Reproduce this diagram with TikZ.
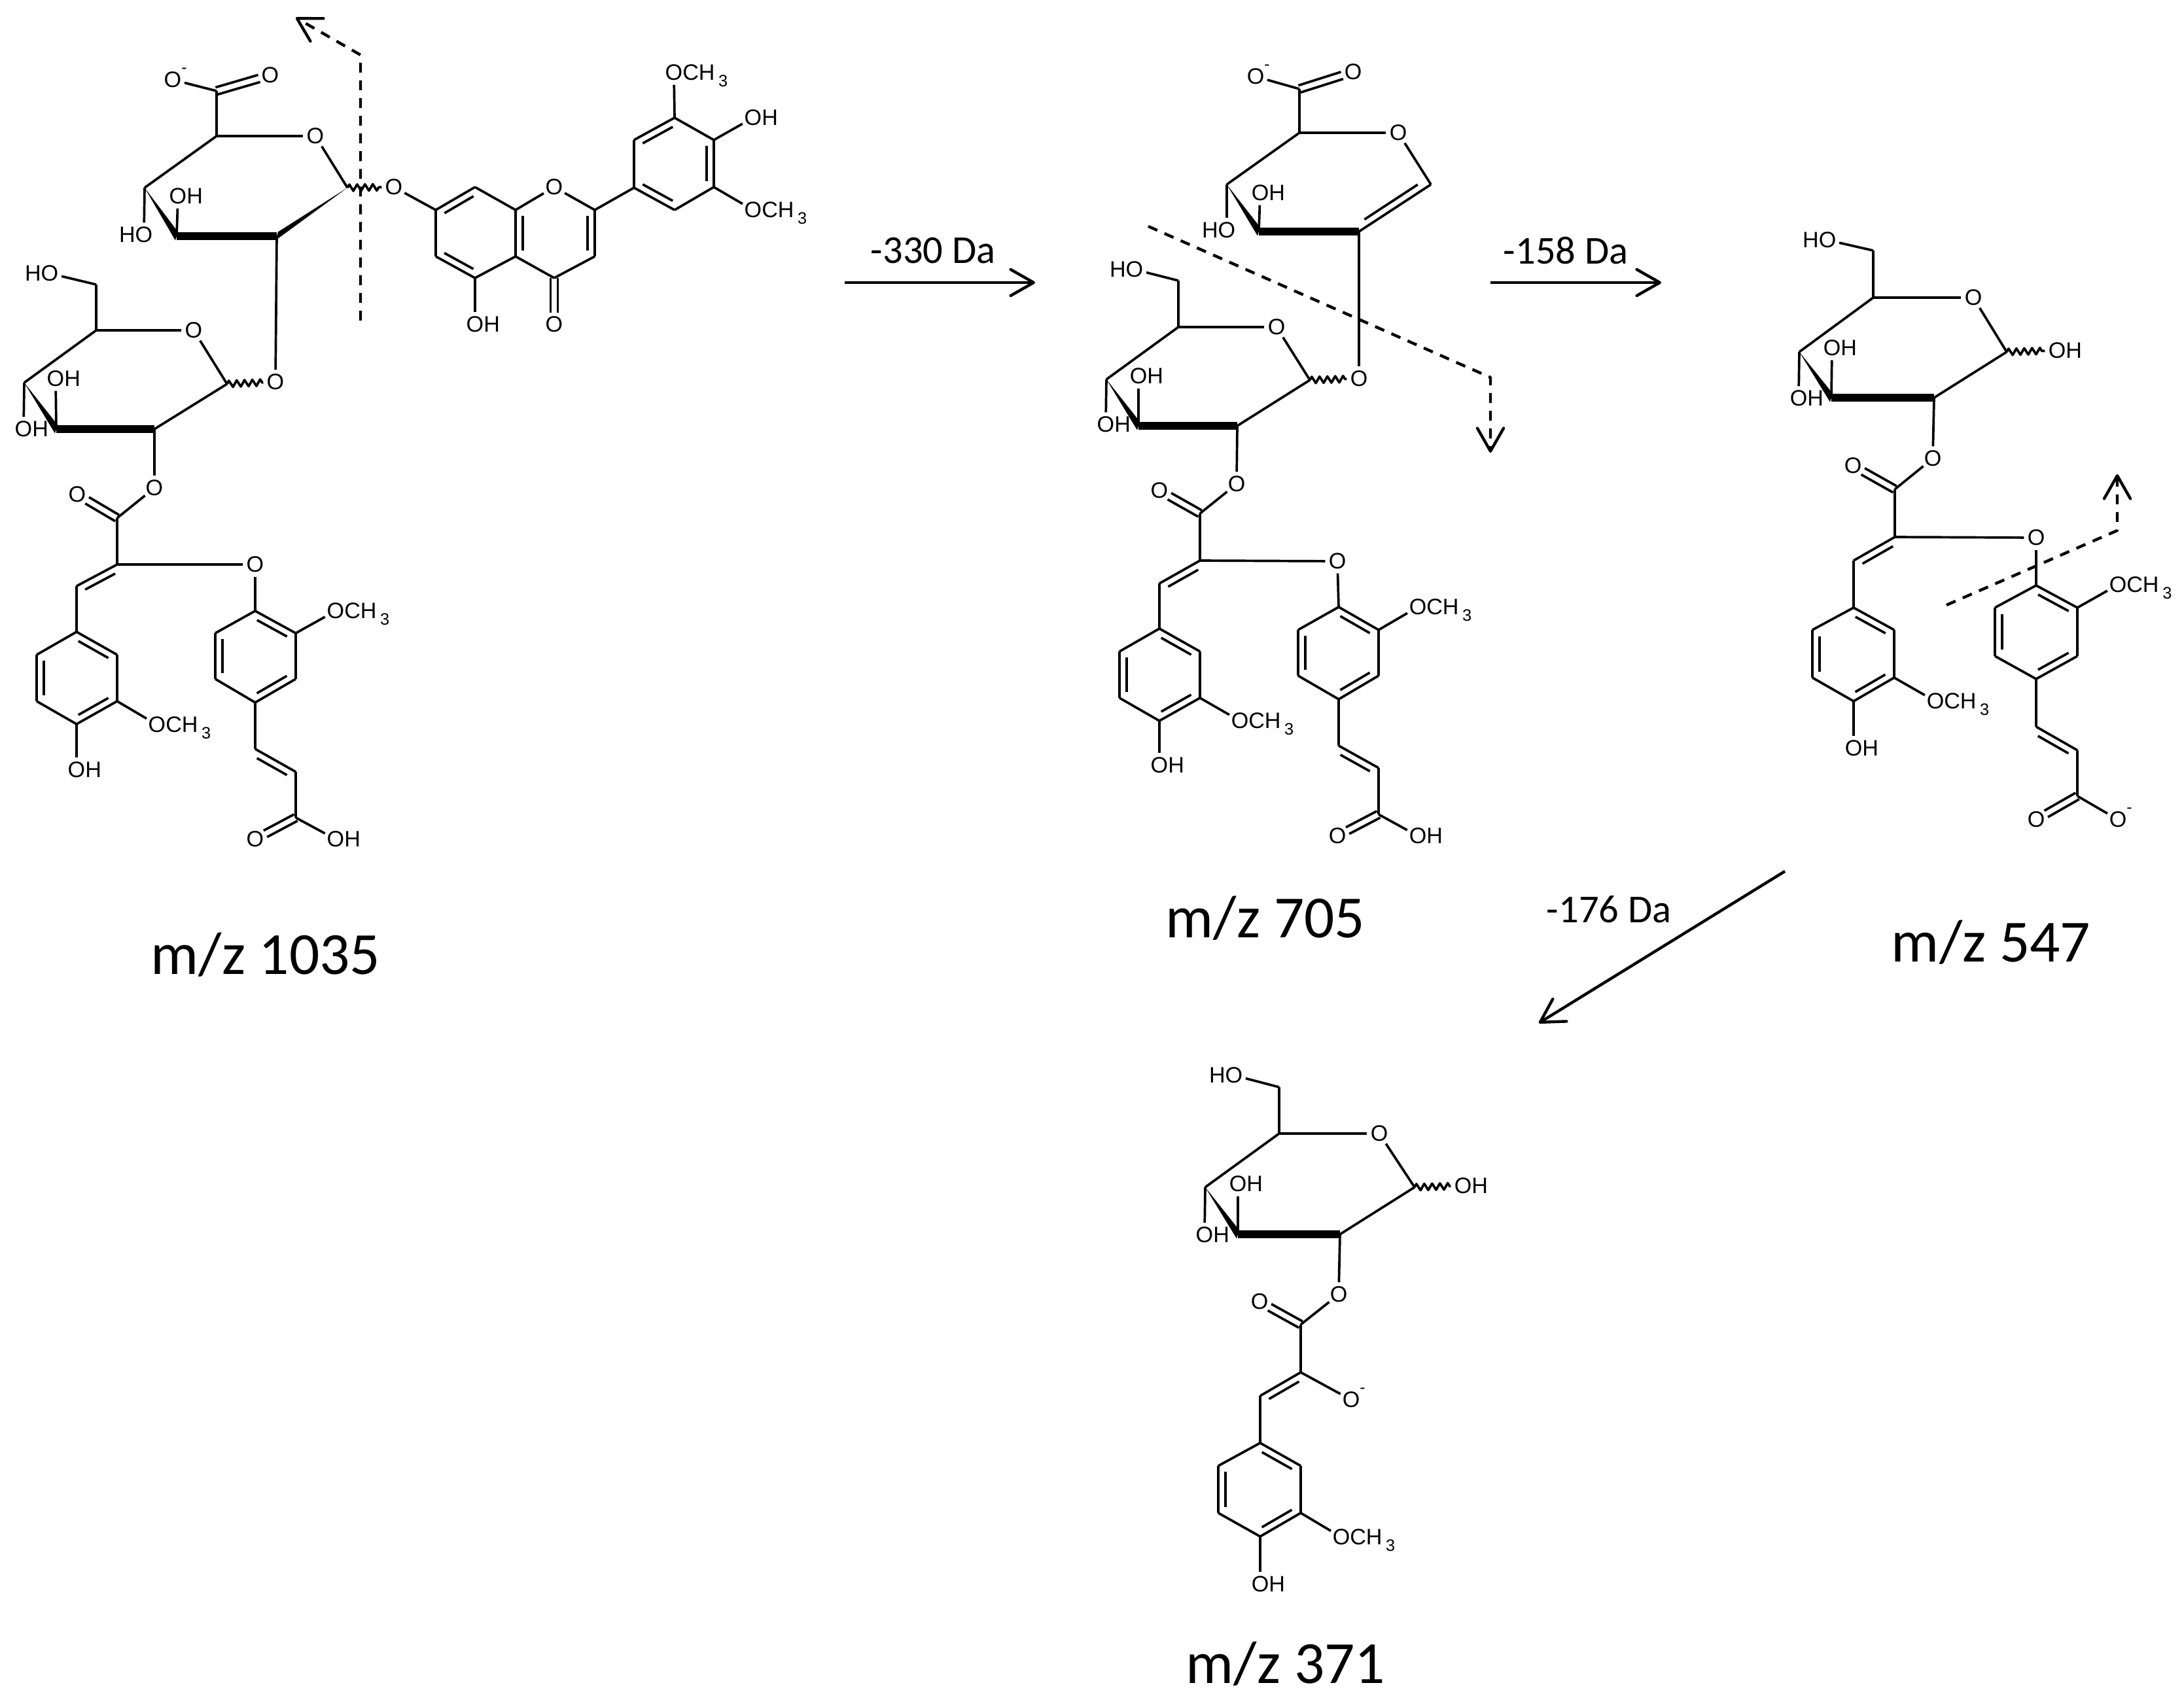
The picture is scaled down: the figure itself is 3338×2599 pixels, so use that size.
\documentclass[tikz,border=0pt]{standalone}
\usepackage{fontspec}
\setmainfont{Liberation Sans}
\newfontfamily\calfont{Carlito}
\usetikzlibrary{calc, arrows.meta, decorations.pathmorphing}

\tikzset{
    bond/.style={draw, line width=1.05pt, line join=round},
    boldbond/.style={draw, line width=3.2pt},
    wavybond/.style={bond, decorate, decoration={zigzag, segment length=3.4pt, amplitude=1.4pt}},
    atom/.style={circle, inner sep=0pt, font=\fontsize{9.7}{11}\selectfont},
    cleavage/.style={bond, line width=1.25pt, dash pattern=on 4.3pt off 3.4pt, -{Straight Barb[length=10pt, width=11.4pt, round]}},
    reaction/.style={draw, line width=1.25pt, -{Straight Barb[length=10pt, width=11.4pt, round]}},
    losslabel/.style={font=\calfont\fontsize{17.2}{20}\selectfont},
    masslabel/.style={font=\calfont\fontsize{26}{30}\selectfont},
}

% Textes des atomes (le noeud est centré sur le O)
\newcommand{\OH}{O\smash{\rlap{H}}}
\newcommand{\HO}{\smash{\llap{H}}O}
\newcommand{\OCH}{O\smash{\rlap{CH\,\raisebox{-2.9pt}{\fontsize{7.2}{8}\selectfont 3}}}}
\newcommand{\Oneg}{O\smash{\rlap{\raisebox{6.3pt}{\fontsize{7}{8}\selectfont -}}}}

% Positions
\newcommand{\carbons}[2]{\foreach \n/\px/\py in {#2} \coordinate (#1\n) at (\px,\py);}
\newcommand{\atomlabels}[2]{\foreach \n/\txt/\px/\py in {#2} \node[atom] (#1\n) at (\px,\py) {\txt};}

% Liaisons
\newcommand{\bonds}[2]{\foreach \a/\b in {#2} \draw[bond] (#1\a) -- (#1\b);}
\newcommand{\dblbond}[2]{
    \draw[bond] (#1) -- (#2);
    \draw[bond] ($(#1)!0.13!(#2)!3.1pt!90:(#2)$) -- ($(#2)!0.13!(#1)!3.1pt!-90:(#1)$);
}
\newcommand{\carbonyl}[2]{
    \draw[bond, shorten >=5pt] ($(#1)!1.6pt!90:(#2)$) -- ($(#2)!1.6pt!-90:(#1)$);
    \draw[bond, shorten >=5pt] ($(#1)!1.6pt!-90:(#2)$) -- ($(#2)!1.6pt!90:(#1)$);
}
\newcommand{\wedgebond}[2]{\fill (#1) -- ($(#2)+(2,-6.5)$) -- ($(#2)+(-2,6.5)$) -- cycle;}

% Fragments communs
\newcommand{\pyranose}[1]{
    \bonds{#1}{c5/c6, c6/o6, c5/oring, oring/c1, c1/c2, c4/c5, c4/o4, c3/o3, c2/o2}
    \draw[wavybond] (#1c1) -- (#1o1);
    \wedgebond{#1c4}{#1c3}
    \draw[boldbond] (#1c3) -- (#1c2);
}
\newcommand{\feruloyl}[1]{
    \bonds{#1}{o2/ca, ca/cb, cg/r1, r1/r6, r2/r3, r4/r5, r3/rome, r4/roh, cb/oe}
    \carbonyl{#1ca}{#1oc}
    \dblbond{#1cb}{#1cg}
    \dblbond{#1r2}{#1r1}
    \dblbond{#1r4}{#1r3}
    \dblbond{#1r6}{#1r5}
}
\newcommand{\ferulate}[1]{
    \bonds{#1}{oe/p1, p1/p6, p2/p3, p4/p5, p2/pome, p4/v1, v2/cx, cx/ob}
    \dblbond{#1p2}{#1p1}
    \dblbond{#1p4}{#1p3}
    \dblbond{#1p6}{#1p5}
    \dblbond{#1v2}{#1v1}
    \carbonyl{#1cx}{#1oa}
}
\newcommand{\uronate}[1]{
    \bonds{#1}{k6/k5, k6/kox, k5/kring, kring/k1, k4/k5, k4/k4o, k3/k3o, k2/o1}
    \carbonyl{#1k6}{#1koo}
    \wedgebond{#1k4}{#1k3}
    \draw[boldbond] (#1k3) -- (#1k2);
}

\begin{document}
\begin{tikzpicture}[x=0.01cm, y=-0.01cm]
    \useasboundingbox (0,0) rectangle (3338,2599);

    % m/z 1035
    \carbons{a}{c1/347/587, c2/236/656, c3/86/656, c4/37/585, c5/147/505, c6/147/435,
        ca/179/792, cb/179/863, cg/117/896, r1/117/966, r2/179/1001, r3/179/1072,
        r4/117/1107, r5/56/1072, r6/56/1001, p1/390/934, p2/452/968, p3/452/1038,
        p4/390/1074, p5/329/1038, p6/329/968, v1/390/1145, v2/452/1180, cx/452/1250,
        k1/531/287, k2/423/361, k3/270/361, k4/221/287, k5/331/208, k6/331/139,
        f2/909/321, f3/909/392, f4/847/425, f4a/788/392, f5/726/425, f6/666/392,
        f7/666/321, f8/726/286, f8a/788/321,
        b1/969/287, b2/969/214, b3/1031/180, b4/1091/214, b5/1091/286, b6/1031/321}
    \atomlabels{a}{oring/O/296/505, o1/O/421/584, o2/O/236/746, o3/\OH/85/579, o4/\OH/36/656,
        o6/\HO/76/418, oc/O/118/756, roh/\OH/117/1177, rome/\OCH/240/1108, oe/O/390/863,
        pome/\OCH/513/934, oa/O/390/1283, ob/\OH/513/1283,
        kring/O/482/208, kox/\Oneg/264/122, koo/O/413/115, k3o/\OH/272/300, k4o/\HO/220/359,
        og/O/602/286, fo1/O/847/286, fo4/O/847/496, fo5/\OH/726/496,
        bo3/\OCH/1030/111, bo4/\OH/1151/180, bo5/\OCH/1151/321}
    \pyranose{a}
    \feruloyl{a}
    \ferulate{a}
    \uronate{a}
    \wedgebond{ak1}{ak2}
    \draw[wavybond] (ak1) -- (aog);
    \bonds{a}{og/f7, f7/f6, f5/f4a, f8/f8a, f8a/fo1, fo1/f2, f3/f4, f4/f4a, f5/fo5, f2/b1,
        b1/b2, b3/b4, b5/b6, b3/bo3, b4/bo4, b5/bo5}
    \dblbond{af8}{af7}
    \dblbond{af6}{af5}
    \dblbond{af8a}{af4a}
    \dblbond{af3}{af2}
    \dblbond{ab3}{ab2}
    \dblbond{ab5}{ab4}
    \dblbond{ab1}{ab6}
    \carbonyl{af4}{afo4}
    \coordinate (cuta1) at (551,490);
    \coordinate (cuta2) at (551,84);
    \coordinate (cuta3) at (452,27);
    \draw[cleavage] (cuta1) -- (cuta2) -- (cuta3);
    \node[masslabel] (massa) at (406,1460) {m/z 1035};

    % m/z 705
    \carbons{b}{c1/2002/581, c2/1891/651, c3/1740/651, c4/1691/580, c5/1801/500, c6/1801/429,
        ca/1834/785, cb/1834/857, cg/1772/892, r1/1772/961, r2/1834/996, r3/1834/1067,
        r4/1772/1102, r5/1711/1067, r6/1711/996, p1/2046/928, p2/2107/963, p3/2107/1033,
        p4/2046/1069, p5/1984/1033, p6/1984/963, v1/2046/1140, v2/2107/1174, cx/2107/1245,
        k1/2187/282, k2/2077/354, k3/1924/354, k4/1875/282, k5/1986/203, k6/1986/136}
    \atomlabels{b}{oring/O/1951/500, o1/O/2077/579, o2/O/1890/740, o3/\OH/1740/575, o4/\OH/1690/649,
        o6/\HO/1734/412, oc/O/1772/750, roh/\OH/1772/1170, rome/\OCH/1895/1102, oe/O/2044/858,
        pome/\OCH/2167/928, oa/O/2044/1278, ob/\OH/2167/1278,
        kring/O/2137/203, kox/\Oneg/1919/117, koo/O/2068/110, k3o/\OH/1926/295, k4o/\HO/1875/352}
    \pyranose{b}
    \feruloyl{b}
    \ferulate{b}
    \uronate{b}
    \dblbond{bk2}{bk1}
    \coordinate (cutb1) at (1755,346);
    \coordinate (cutb2) at (2278,577);
    \coordinate (cutb3) at (2278,692);
    \draw[cleavage] (cutb1) -- (cutb2) -- (cutb3);
    \node[masslabel] (massb) at (1934,1404) {m/z 705};

    % m/z 547
    \carbons{c}{c1/3067/538, c2/2956/608, c3/2799/608, c4/2750/538, c5/2863/455, c6/2863/383,
        ca/2896/748, cb/2896/821, cg/2833/857, r1/2833/929, r2/2895/963, r3/2895/1036,
        r4/2833/1072, r5/2770/1036, r6/2770/963, p1/3112/895, p2/3175/929, p3/3175/1003,
        p4/3112/1038, p5/3049/1003, p6/3049/929, v1/3112/1111, v2/3175/1147, cx/3175/1217}
    \atomlabels{c}{oring/O/3016/455, o1/\OH/3144/536, o2/O/2954/701, o3/\OH/2800/532, o4/\OH/2749/609,
        o6/\HO/2793/367, oc/O/2832/712, roh/\OH/2833/1144, rome/\OCH/2958/1072, oe/O/3112/822,
        pome/\OCH/3237/894, oa/O/3112/1253, ob/\Oneg/3237/1253}
    \pyranose{c}
    \feruloyl{c}
    \ferulate{c}
    \coordinate (cutc1) at (2975,925);
    \coordinate (cutc2) at (3236,811);
    \coordinate (cutc3) at (3236,725);
    \draw[cleavage] (cutc1) -- (cutc2) -- (cutc3);
    \node[masslabel] (massc) at (3043,1441) {m/z 547};

    % m/z 371
    \carbons{d}{c1/2162/1815, c2/2048/1887, c3/1892/1887, c4/1842/1815, c5/1955/1733, c6/1955/1662,
        ca/1988/2025, cb/1988/2098, cg/1926/2134, r1/1926/2206, r2/1988/2241, r3/1988/2313,
        r4/1926/2349, r5/1862/2313, r6/1862/2241}
    \atomlabels{d}{oring/O/2108/1733, o1/\OH/2236/1813, o2/O/2046/1979, o3/\OH/1892/1810, o4/\OH/1841/1888,
        o6/\HO/1886/1644, oc/O/1925/1990, roh/\OH/1926/2422, rome/\OCH/2050/2350, oe/\Oneg/2065/2140}
    \pyranose{d}
    \feruloyl{d}
    \node[masslabel] (massd) at (1965,2544) {m/z 371};

    % Flèches de réaction
    \coordinate (stepa1) at (1291,432);
    \coordinate (stepa2) at (1582,432);
    \coordinate (stepb1) at (2278,432);
    \coordinate (stepb2) at (2539,432);
    \coordinate (stepc1) at (2728,1332);
    \coordinate (stepc2) at (2352,1564);
    \draw[reaction] (stepa1) -- (stepa2);
    \draw[reaction] (stepb1) -- (stepb2);
    \draw[reaction] (stepc1) -- (stepc2);
    \node[losslabel] (lossa) at (1426,383) {-330 Da};
    \node[losslabel] (lossb) at (2393,383) {-158 Da};
    \node[losslabel] (lossc) at (2459,1390) {-176 Da};
\end{tikzpicture}
\end{document}
